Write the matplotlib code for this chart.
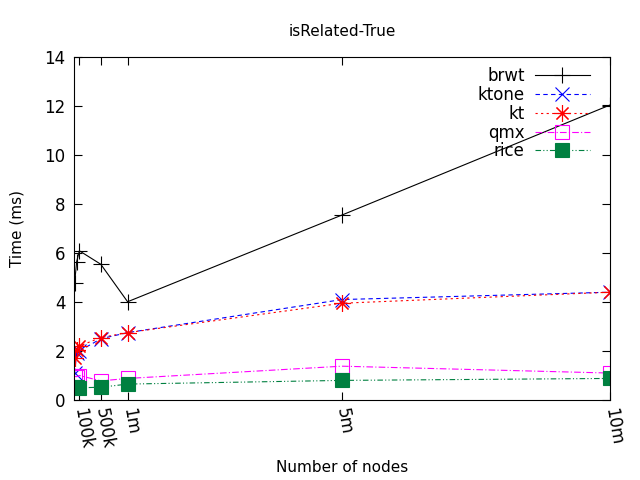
import matplotlib
matplotlib.use("Agg")
import matplotlib.pyplot as plt

# node counts (x) and query times in ms
nodes = [10e3, 50e3, 100e3, 500e3, 1e6, 5e6, 10e6]
tick_pos = [100e3, 500e3, 1e6, 5e6, 10e6]
tick_labels = ["100k", "500k", "1m", "5m", "10m"]

brwt = [4.76, 5.65, 6.09, 5.54, 4.01, 7.55, 12.04]
ktone = [1.10, 1.90, 2.00, 2.50, 2.75, 4.10, 4.40]
kt = [1.70, 2.05, 2.20, 2.55, 2.75, 3.95, 4.40]
qmx = [0.97, 0.95, 1.00, 0.78, 0.88, 1.38, 1.10]
rice = [0.55, 0.55, 0.50, 0.52, 0.65, 0.80, 0.88]

asterisk = (8, 2, 0)

fig = plt.figure(figsize=(6.4, 4.8), dpi=100)
ax = fig.add_axes([74 / 640, 80 / 480, 536 / 640, 343 / 480])

lw = 0.8
ax.plot(nodes, brwt, color="black", ls="-", lw=lw, marker="+", ms=12, mew=lw, label="brwt")
ax.plot(nodes, ktone, color="blue", ls=(0, (4, 3)), lw=lw, marker="x", ms=10, mew=lw, label="ktone")
ax.plot(nodes, kt, color="red", ls=(0, (2, 3)), lw=lw, marker=asterisk, ms=12, mew=lw, label="kt")
ax.plot(nodes, qmx, color="magenta", ls=(0, (6, 2, 1, 2)), lw=lw, marker="s", ms=10,
        mew=lw, mfc="none", label="qmx")
ax.plot(nodes, rice, color="#008040", ls=(0, (5, 2, 1, 2, 1, 2)), lw=lw, marker="s", ms=10,
        mew=lw, label="rice")

ax.set_xlim(0, 10e6)
ax.set_ylim(0, 14)
ax.set_yticks(range(0, 15, 2))
ax.set_xticks(tick_pos)
ax.set_xticklabels(tick_labels, rotation=-80, rotation_mode="anchor", ha="left", va="center")
ax.tick_params(direction="in", top=True, right=True, labelsize=12, length=6, width=0.8, pad=6)
for s in ax.spines.values():
    s.set_linewidth(0.8)

ax.set_xlabel("Number of nodes", fontsize=11, labelpad=7)
ax.set_ylabel("Time (ms)", fontsize=11, labelpad=14)
ax.set_title("isRelated-True", fontsize=11, pad=15)

ax.legend(loc="upper right", bbox_to_anchor=(0.981, 1.0), frameon=False, markerfirst=False,
          fontsize=12, handlelength=3.3, labelspacing=0.05, borderaxespad=0.2,
          handletextpad=0.6)

fig.savefig("out.png", dpi=100)
